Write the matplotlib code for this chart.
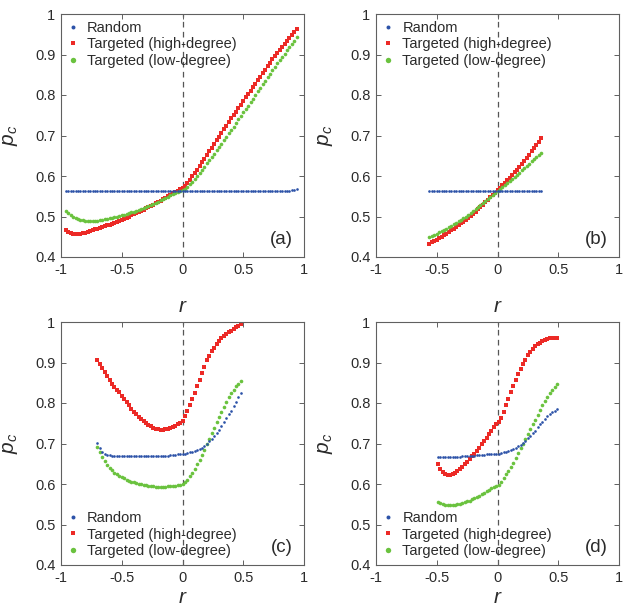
import matplotlib
matplotlib.use('Agg')
import matplotlib.pyplot as plt
import numpy as np

plt.rcParams['font.family'] = ['Liberation Sans', 'DejaVu Sans']
plt.rcParams['mathtext.fontset'] = 'custom'
plt.rcParams['mathtext.it'] = 'Liberation Sans:italic'
plt.rcParams['mathtext.rm'] = 'Liberation Sans'

# degree assortativity r, sampled every 0.02
r_a = np.round(np.arange(-0.96, 0.9401, 0.02), 2)
r_b = np.round(np.arange(-0.56, 0.3601, 0.02), 2)
r_c = np.round(np.arange(-0.70, 0.4801, 0.02), 2)
r_d = np.round(np.arange(-0.49, 0.4901, 0.02), 2)

# ---- panel (a)
rand_a = [0.563, 0.563, 0.563, 0.563, 0.563, 0.563, 0.563, 0.563, 0.563, 0.563,
          0.563, 0.563, 0.563, 0.563, 0.564, 0.563, 0.563, 0.563, 0.563, 0.563,
          0.563, 0.564, 0.564, 0.563, 0.563, 0.564, 0.564, 0.564, 0.564, 0.563,
          0.564, 0.564, 0.564, 0.564, 0.564, 0.563, 0.564, 0.564, 0.564, 0.564,
          0.564, 0.563, 0.563, 0.563, 0.563, 0.563, 0.563, 0.563, 0.564, 0.563,
          0.563, 0.563, 0.563, 0.564, 0.563, 0.563, 0.564, 0.564, 0.563, 0.563,
          0.563, 0.564, 0.564, 0.564, 0.564, 0.563, 0.563, 0.564, 0.564, 0.564,
          0.564, 0.564, 0.564, 0.564, 0.564, 0.564, 0.564, 0.564, 0.564, 0.564,
          0.564, 0.564, 0.564, 0.564, 0.564, 0.564, 0.564, 0.564, 0.564, 0.564,
          0.564, 0.564, 0.564, 0.565, 0.565, 0.568]
high_a = [0.466, 0.462, 0.459, 0.457, 0.457, 0.457, 0.458, 0.459, 0.460, 0.462,
          0.464, 0.466, 0.468, 0.470, 0.472, 0.474, 0.476, 0.478, 0.480, 0.482,
          0.485, 0.487, 0.490, 0.492, 0.495, 0.497, 0.500, 0.503, 0.505, 0.508,
          0.511, 0.514, 0.517, 0.520, 0.523, 0.526, 0.529, 0.533, 0.536, 0.539,
          0.543, 0.546, 0.550, 0.553, 0.557, 0.561, 0.564, 0.567, 0.570, 0.576,
          0.583, 0.591, 0.599, 0.607, 0.616, 0.625, 0.634, 0.643, 0.652, 0.661,
          0.670, 0.679, 0.688, 0.697, 0.706, 0.715, 0.724, 0.733, 0.742, 0.751,
          0.759, 0.768, 0.776, 0.785, 0.794, 0.802, 0.811, 0.819, 0.828, 0.837,
          0.845, 0.854, 0.862, 0.871, 0.879, 0.888, 0.896, 0.904, 0.912, 0.919,
          0.926, 0.934, 0.941, 0.948, 0.955, 0.963]
low_a = [0.513, 0.508, 0.503, 0.499, 0.496, 0.494, 0.492, 0.491, 0.490, 0.490,
         0.490, 0.490, 0.490, 0.490, 0.491, 0.492, 0.493, 0.494, 0.496, 0.497,
         0.498, 0.500, 0.501, 0.503, 0.504, 0.506, 0.508, 0.510, 0.512, 0.514,
         0.516, 0.518, 0.521, 0.523, 0.525, 0.528, 0.531, 0.534, 0.537, 0.540,
         0.543, 0.546, 0.549, 0.552, 0.555, 0.558, 0.561, 0.563, 0.565, 0.569,
         0.574, 0.580, 0.586, 0.593, 0.600, 0.607, 0.615, 0.623, 0.631, 0.639,
         0.647, 0.655, 0.663, 0.671, 0.680, 0.688, 0.697, 0.705, 0.714, 0.722,
         0.731, 0.740, 0.748, 0.757, 0.766, 0.774, 0.783, 0.791, 0.800, 0.809,
         0.818, 0.826, 0.835, 0.844, 0.852, 0.861, 0.869, 0.878, 0.886, 0.894,
         0.902, 0.910, 0.918, 0.926, 0.934, 0.942]

# ---- panel (b)
rand_b = [0.563, 0.563, 0.563, 0.563, 0.563, 0.564, 0.564, 0.564, 0.564, 0.564,
          0.564, 0.564, 0.564, 0.564, 0.563, 0.563, 0.563, 0.564, 0.564, 0.564,
          0.564, 0.564, 0.564, 0.563, 0.564, 0.564, 0.564, 0.564, 0.564, 0.564,
          0.564, 0.563, 0.563, 0.563, 0.563, 0.562, 0.562, 0.562, 0.563, 0.563,
          0.563, 0.563, 0.563, 0.563, 0.563, 0.563, 0.563]
high_b = [0.433, 0.436, 0.440, 0.443, 0.447, 0.450, 0.454, 0.458, 0.462, 0.466,
          0.470, 0.474, 0.478, 0.483, 0.487, 0.492, 0.497, 0.502, 0.507, 0.512,
          0.518, 0.523, 0.529, 0.535, 0.541, 0.547, 0.553, 0.559, 0.565, 0.571,
          0.577, 0.583, 0.589, 0.595, 0.602, 0.609, 0.616, 0.623, 0.630, 0.637,
          0.645, 0.653, 0.661, 0.669, 0.677, 0.685, 0.693]
low_b = [0.449, 0.452, 0.455, 0.458, 0.461, 0.464, 0.467, 0.470, 0.474, 0.477,
         0.481, 0.484, 0.488, 0.492, 0.496, 0.500, 0.504, 0.509, 0.513, 0.518,
         0.523, 0.528, 0.533, 0.538, 0.543, 0.548, 0.553, 0.558, 0.563, 0.568,
         0.573, 0.578, 0.583, 0.588, 0.593, 0.598, 0.603, 0.608, 0.614, 0.619,
         0.625, 0.630, 0.636, 0.641, 0.647, 0.651, 0.656]

# ---- panel (c)
rand_c = [0.702, 0.690, 0.680, 0.675, 0.672, 0.671, 0.670, 0.670, 0.670, 0.670,
          0.670, 0.670, 0.670, 0.670, 0.670, 0.670, 0.670, 0.670, 0.670, 0.670,
          0.670, 0.670, 0.670, 0.670, 0.670, 0.670, 0.670, 0.670, 0.670, 0.670,
          0.671, 0.671, 0.672, 0.673, 0.673, 0.674, 0.675, 0.676, 0.678, 0.680,
          0.682, 0.684, 0.687, 0.690, 0.694, 0.699, 0.705, 0.711, 0.718, 0.726,
          0.734, 0.743, 0.752, 0.762, 0.772, 0.781, 0.792, 0.803, 0.814, 0.825]
high_c = [0.906, 0.896, 0.886, 0.876, 0.866, 0.857, 0.848, 0.840, 0.833, 0.826,
          0.818, 0.810, 0.802, 0.794, 0.786, 0.779, 0.772, 0.766, 0.760, 0.755,
          0.750, 0.746, 0.742, 0.739, 0.737, 0.735, 0.734, 0.734, 0.735, 0.736,
          0.738, 0.741, 0.744, 0.748, 0.751, 0.755, 0.768, 0.781, 0.795, 0.809,
          0.825, 0.842, 0.858, 0.873, 0.890, 0.905, 0.917, 0.928, 0.937, 0.946,
          0.953, 0.960, 0.966, 0.971, 0.975, 0.979, 0.983, 0.987, 0.991, 0.994]
low_c = [0.692, 0.678, 0.666, 0.656, 0.647, 0.640, 0.634, 0.628, 0.624, 0.620,
         0.617, 0.614, 0.611, 0.608, 0.606, 0.604, 0.602, 0.600, 0.599, 0.598,
         0.597, 0.596, 0.595, 0.594, 0.593, 0.592, 0.592, 0.592, 0.593, 0.594,
         0.595, 0.596, 0.596, 0.597, 0.598, 0.600, 0.604, 0.611, 0.619, 0.628,
         0.638, 0.649, 0.660, 0.672, 0.685, 0.698, 0.711, 0.725, 0.738, 0.752,
         0.765, 0.778, 0.791, 0.803, 0.814, 0.824, 0.833, 0.841, 0.848, 0.854]

# ---- panel (d)
rand_d = [0.666, 0.666, 0.666, 0.666, 0.666, 0.666, 0.666, 0.667, 0.667, 0.667,
          0.668, 0.668, 0.669, 0.669, 0.670, 0.670, 0.671, 0.671, 0.672, 0.672,
          0.673, 0.673, 0.674, 0.674, 0.675, 0.675, 0.677, 0.678, 0.679, 0.681,
          0.684, 0.687, 0.690, 0.693, 0.697, 0.702, 0.707, 0.713, 0.719, 0.725,
          0.732, 0.740, 0.747, 0.754, 0.761, 0.767, 0.772, 0.777, 0.781, 0.784]
high_d = [0.650, 0.636, 0.629, 0.625, 0.623, 0.623, 0.625, 0.628, 0.632, 0.637,
          0.643, 0.649, 0.655, 0.661, 0.668, 0.675, 0.682, 0.690, 0.698, 0.706,
          0.714, 0.723, 0.732, 0.740, 0.747, 0.753, 0.764, 0.778, 0.795, 0.810,
          0.826, 0.842, 0.858, 0.872, 0.885, 0.897, 0.907, 0.918, 0.927, 0.934,
          0.940, 0.945, 0.949, 0.953, 0.956, 0.958, 0.960, 0.961, 0.961, 0.960]
low_d = [0.556, 0.552, 0.550, 0.549, 0.548, 0.548, 0.549, 0.549, 0.550, 0.551,
         0.553, 0.555, 0.557, 0.559, 0.562, 0.565, 0.568, 0.571, 0.575, 0.578,
         0.582, 0.586, 0.589, 0.592, 0.596, 0.598, 0.605, 0.614, 0.624, 0.632,
         0.642, 0.653, 0.665, 0.676, 0.688, 0.700, 0.711, 0.723, 0.735, 0.747,
         0.759, 0.771, 0.783, 0.794, 0.805, 0.815, 0.824, 0.832, 0.840, 0.847]

series_names = ['Random', 'Targeted (high-degree)', 'Targeted (low-degree)']
xticks = [-1, -0.5, 0, 0.5, 1]
xtick_labels = ['-1', '-0.5', '0', '0.5', '1']
yticks = [0.4, 0.5, 0.6, 0.7, 0.8, 0.9, 1.0]
ytick_labels = ['0.4', '0.5', '0.6', '0.7', '0.8', '0.9', '1']

c_blue = '#2c52a8'
c_red = '#ec2a26'
c_green = '#6ac23e'
c_axis = '#606060'
c_text = '#2b2b2b'


def panel(ax, r, rand, high, low, tag, legend_loc, xlab_y):
    ax.axvline(0, color='#555555', lw=0.9, ls=(0, (4.5, 3.5)), zorder=1)
    ax.plot(r, rand, ls='none', marker='o', ms=1.9, mew=0, color=c_blue,
            label=series_names[0], zorder=3)
    ax.plot(r, high, ls='none', marker='s', ms=2.4, mew=0, color=c_red,
            label=series_names[1], zorder=2)
    ax.plot(r, low, ls='none', marker='o', ms=2.6, mew=0, color=c_green,
            label=series_names[2], zorder=2)
    ax.set_xlim(-1, 1)
    ax.set_ylim(0.4, 1.0)
    ax.set_xticks(xticks)
    ax.set_xticklabels(xtick_labels)
    ax.set_yticks(yticks)
    ax.set_yticklabels(ytick_labels)
    ax.tick_params(direction='in', top=True, right=True, length=3.5,
                   width=0.7, color=c_axis, labelsize=10.5,
                   labelcolor=c_text, pad=4)
    for s in ax.spines.values():
        s.set_color(c_axis)
        s.set_linewidth(0.8)
    ax.set_xlabel('$r$', fontsize=15, color=c_text)
    ax.set_ylabel('$p_c$', fontsize=15, color=c_text)
    ax.xaxis.set_label_coords(0.5, xlab_y)
    ax.yaxis.set_label_coords(-0.17, 0.5)
    ax.text(0.955, 0.035, tag, transform=ax.transAxes, ha='right',
            va='bottom', fontsize=13.5, color=c_text)
    ax.legend(loc=legend_loc, frameon=False, fontsize=10.5, markerscale=1.5,
              handlelength=0.7, handletextpad=0.6, labelspacing=0.15,
              borderaxespad=0.2, borderpad=0.3, labelcolor=c_text)


fig = plt.figure(figsize=(6.30, 6.09), dpi=100)
w, h = 243 / 630, 243 / 609
ax_a = fig.add_axes([61 / 630, 1 - 257 / 609, w, h])
ax_b = fig.add_axes([376 / 630, 1 - 257 / 609, w, h])
ax_c = fig.add_axes([61 / 630, 1 - 565 / 609, w, h])
ax_d = fig.add_axes([376 / 630, 1 - 565 / 609, w, h])

panel(ax_a, r_a, rand_a, high_a, low_a, '(a)', 'upper left', -0.165)
panel(ax_b, r_b, rand_b, high_b, low_b, '(b)', 'upper left', -0.165)
panel(ax_c, r_c, rand_c, high_c, low_c, '(c)', 'lower left', -0.093)
panel(ax_d, r_d, rand_d, high_d, low_d, '(d)', 'lower left', -0.093)

fig.savefig('out.png', dpi=100)
